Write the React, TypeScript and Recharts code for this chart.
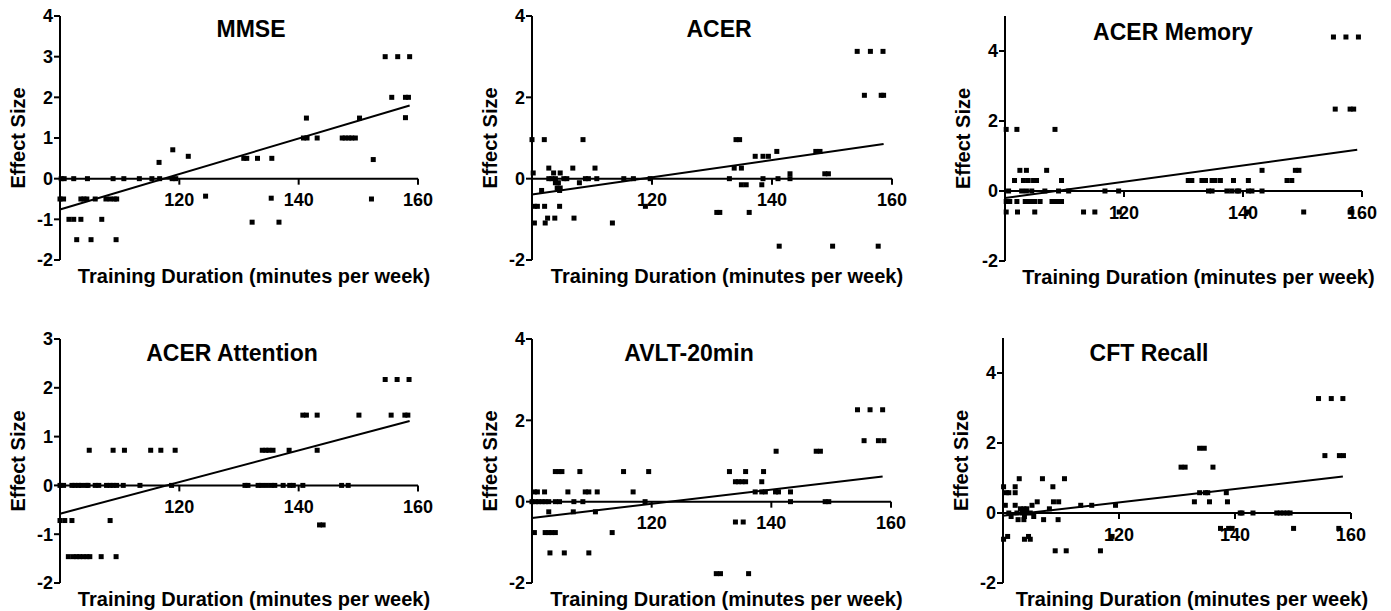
import React from 'react';
import { ScatterChart, Scatter, XAxis, YAxis, ReferenceLine } from 'recharts';

const FONT = '"Liberation Sans", Arial, Helvetica, sans-serif';

type Pt = [number, number];

const xDomain: [number, number] = [100, 160];
const xTicks = [120, 140, 160];
const xAxisTitle = 'Training Duration (minutes per week)';
const yAxisTitle = 'Effect Size';

const mmsePoints: Pt[] = [
  [100.2, 0], [100.7, 0], [102.3, 0], [104.6, 0], [108.9, 0], [110.7, 0], [113.3, 0], [115.4, 0], [116.7, 0], [118.8, 0], [119.4, 0],
  [100, -0.5], [100.6, -0.5], [103.5, -0.5], [104.0, -0.5], [104.5, -0.5], [105.9, -0.5], [107.7, -0.5], [108.4, -0.5], [109.1, -0.5], [109.5, -0.5],
  [101.5, -1], [102.3, -1], [103.5, -1], [107.0, -1],
  [102.8, -1.5], [105.2, -1.5], [109.4, -1.5],
  [116.6, 0.4], [118.9, 0.71], [121.5, 0.55], [124.4, -0.43],
  [130.8, 0.5], [131.3, 0.5], [133.1, 0.5], [135.5, 0.5],
  [132.2, -1.07], [136.7, -1.07], [135.4, -0.48],
  [141.3, 1.49],
  [140.8, 1], [141.4, 1], [143.1, 1], [147.3, 1], [147.8, 1], [148.4, 1], [148.9, 1], [149.5, 1],
  [150.2, 1.49], [152.5, 0.47], [152.2, -0.5],
  [154.5, 3], [156.6, 3], [158.6, 3],
  [155.6, 2], [157.9, 2], [158.4, 2], [157.9, 1.5],
];
const mmseFit: Pt[] = [[100, -0.76], [158.6, 1.8]];

const acerPoints: Pt[] = [
  [100, 0.96], [102.05, 0.96], [108.5, 0.96],
  [102.8, 0.26], [106.8, 0.26], [110.5, 0.26],
  [100.2, 0.14], [103.6, 0.14], [104.7, 0.14],
  [102.8, 0], [103.3, 0], [103.9, 0], [105.3, 0], [105.8, 0], [108.9, 0], [109.4, 0], [110.8, 0],
  [103.9, -0.1], [104.4, -0.1], [107.9, -0.1],
  [104.2, -0.23], [104.7, -0.23],
  [101.6, -0.29], [104.6, -0.29],
  [100.4, -0.68], [100.9, -0.68], [102.1, -0.68], [104.6, -0.68],
  [102.6, -0.97], [103.8, -0.97], [107.0, -0.97],
  [100.4, -1.09], [102.2, -1.09], [113.4, -1.09],
  [115.3, 0], [116.9, 0], [119.7, 0], [118.9, -0.68],
  [134.0, 0.96], [134.6, 0.96],
  [133.7, 0.26], [134.9, 0.26],
  [132.9, 0], [138.5, 0], [141.0, 0], [143.0, 0],
  [143.0, 0.12], [148.8, 0.12], [149.4, 0.12],
  [134.9, -0.15], [135.7, -0.15], [138.3, -0.15],
  [137.2, 0.55], [138.5, 0.55], [139.4, 0.55],
  [140.8, 0.67], [147.3, 0.67], [148.0, 0.67],
  [130.8, -0.83], [131.3, -0.83], [136.2, -0.83],
  [141.2, -1.66], [150.1, -1.66], [157.7, -1.66],
  [154.2, 3.13], [156.4, 3.13], [158.5, 3.13],
  [155.4, 2.05], [158.2, 2.05], [158.6, 2.05],
];
const acerFit: Pt[] = [[100, -0.39], [158.6, 0.85]];

const memoryPoints: Pt[] = [
  [155.2, 4.4], [157.3, 4.4], [159.4, 4.4],
  [155.5, 2.34], [158.0, 2.34], [158.6, 2.34],
  [100.2, 1.76], [102.0, 1.76], [108.4, 1.76],
  [102.5, 0.59], [103.6, 0.59], [107.0, 0.59], [143.2, 0.59], [148.8, 0.59], [149.4, 0.59],
  [101.6, 0.3], [103.1, 0.3], [103.9, 0.3], [104.8, 0.3], [105.3, 0.3], [109.5, 0.3], [130.8, 0.3], [131.4, 0.3], [133.1, 0.3],
  [133.7, 0.3], [134.8, 0.3], [135.3, 0.3], [136.2, 0.3], [138.4, 0.3], [140.9, 0.3], [147.4, 0.3], [148.2, 0.3],
  [100.6, 0], [102.8, 0], [103.6, 0], [104.5, 0], [106.7, 0], [109.0, 0], [110.7, 0], [116.8, 0], [119.1, 0],
  [134.2, 0], [134.8, 0], [137.3, 0], [138.1, 0], [139.0, 0], [139.3, 0], [140.9, 0], [141.5, 0], [143.2, 0],
  [100.2, -0.3], [100.6, -0.3], [100.8, -0.3], [102.0, -0.3], [103.4, -0.3], [103.9, -0.3], [104.5, -0.3],
  [105.0, -0.3], [105.9, -0.3], [107.9, -0.3], [108.4, -0.3], [109.0, -0.3], [109.5, -0.3],
  [100.2, -0.6], [102.1, -0.6], [105.0, -0.6], [113.2, -0.6], [115.1, -0.6], [119.2, -0.6], [140.9, -0.6],
  [150.2, -0.6], [158.0, -0.6], [158.3, -0.6],
];
const memoryFit: Pt[] = [[100, -0.2], [159.2, 1.18]];

const attentionPoints: Pt[] = [
  [154.5, 2.17], [156.5, 2.17], [158.5, 2.17],
  [140.7, 1.44], [141.3, 1.44], [143.1, 1.44], [150.1, 1.44], [155.5, 1.44], [157.8, 1.44], [158.3, 1.44],
  [104.9, 0.72], [108.9, 0.72], [110.8, 0.72], [115.2, 0.72], [116.9, 0.72], [119.3, 0.72],
  [133.9, 0.72], [134.5, 0.72], [135.0, 0.72], [135.7, 0.72], [138.4, 0.72], [143.1, 0.72],
  [100, 0], [100.6, 0], [102.0, 0], [102.5, 0], [103.1, 0], [103.6, 0], [104.4, 0], [104.7, 0], [105.9, 0], [106.5, 0],
  [107.8, 0], [108.4, 0], [108.9, 0], [109.5, 0], [110.6, 0], [113.4, 0], [118.7, 0], [131.0, 0], [131.5, 0], [133.2, 0],
  [133.8, 0], [134.6, 0], [135.4, 0], [136.0, 0], [137.4, 0], [138.5, 0], [139.1, 0], [140.7, 0], [147.2, 0], [148.3, 0],
  [100, -0.72], [100.8, -0.72], [102.0, -0.72], [108.4, -0.72],
  [143.5, -0.81], [144.1, -0.81],
  [101.4, -1.46], [102.2, -1.46], [102.8, -1.46], [103.3, -1.46], [103.9, -1.46], [104.5, -1.46], [105.0, -1.46],
  [106.9, -1.46], [109.4, -1.46],
];
const attentionFit: Pt[] = [[100, -0.58], [158.6, 1.32]];

const avltPoints: Pt[] = [
  [154.4, 2.26], [156.5, 2.26], [158.6, 2.26],
  [155.5, 1.5], [157.9, 1.5], [158.8, 1.5],
  [140.8, 1.24], [147.5, 1.24], [148.2, 1.24],
  [103.9, 0.74], [104.5, 0.74], [105.0, 0.74], [108.0, 0.74], [115.3, 0.74], [119.5, 0.74], [133.0, 0.74], [135.7, 0.74], [138.7, 0.74],
  [134.0, 0.49], [134.5, 0.49], [135.1, 0.49], [135.7, 0.49], [138.4, 0.49],
  [100.4, 0.24], [100.9, 0.24], [102.1, 0.24], [106.0, 0.24], [108.9, 0.24], [109.5, 0.24], [110.9, 0.24], [116.9, 0.24],
  [137.3, 0.24], [138.4, 0.24], [139.0, 0.24], [140.7, 0.24], [141.2, 0.24], [143.2, 0.24],
  [100, 0], [100.6, 0], [101.1, 0], [101.7, 0], [102.2, 0], [102.8, 0], [103.9, 0], [104.6, 0], [107.0, 0], [108.5, 0],
  [118.9, 0], [143.2, 0], [149.0, 0], [149.6, 0],
  [102.8, -0.25], [106.9, -0.25], [110.6, -0.25],
  [134.0, -0.5], [135.3, -0.5],
  [100.4, -0.76], [102.2, -0.76], [102.8, -0.76], [103.3, -0.76], [103.9, -0.76], [113.4, -0.76],
  [103.0, -1.26], [105.4, -1.26], [109.5, -1.26],
  [130.8, -1.77], [131.5, -1.77], [136.2, -1.77],
];
const avltFit: Pt[] = [[100, -0.4], [158.6, 0.62]];

const cftPoints: Pt[] = [
  [154.4, 3.27], [156.6, 3.27], [158.6, 3.27],
  [155.5, 1.64], [158.0, 1.64], [158.7, 1.64],
  [133.9, 1.85], [134.7, 1.85],
  [130.7, 1.31], [131.4, 1.31], [136.2, 1.31],
  [102.8, 0.98], [106.8, 0.98], [110.6, 0.98],
  [100.1, 0.75], [102.1, 0.75], [108.6, 0.75],
  [100.6, 0.58], [101.0, 0.58], [102.1, 0.58], [133.9, 0.58], [134.9, 0.58], [135.3, 0.58], [138.5, 0.58],
  [105.9, 0.32], [108.7, 0.32], [109.6, 0.32], [133.0, 0.32], [135.6, 0.32], [138.7, 0.32],
  [100.4, 0.22], [102.1, 0.22], [105.0, 0.22], [113.4, 0.22], [115.3, 0.22], [119.4, 0.22],
  [103.0, 0.12], [103.6, 0.12], [104.1, 0.12], [108.0, 0.12],
  [101.0, 0], [102.4, 0], [103.3, 0], [103.9, 0], [104.7, 0], [140.9, 0], [141.2, 0], [143.1, 0],
  [147.2, 0], [147.8, 0], [148.4, 0], [149.0, 0], [149.5, 0],
  [101.4, -0.1], [103.7, -0.1], [105.3, -0.1],
  [102.6, -0.19], [103.6, -0.19], [107.0, -0.19], [109.5, -0.19],
  [137.5, -0.44], [138.9, -0.44], [139.5, -0.44], [150.1, -0.44], [157.9, -0.44],
  [100.8, -0.67], [104.4, -0.67], [118.8, -0.67],
  [100.1, -0.75], [103.7, -0.75], [104.7, -0.75],
  [109.0, -1.08], [110.9, -1.08], [116.8, -1.08],
];
const cftFit: Pt[] = [[100, -0.08], [158.6, 1.04]];

const yTicksSix = [-2, -1, 0, 1, 2, 3, 4];
const yTicksEven = [-2, 0, 2, 4];
const yTicksFive = [-2, -1, 0, 1, 2, 3];

interface PanelCfg {
  title: string;
  points: Pt[];
  fit: Pt[];
  yDomain: [number, number];
  yTicks: number[];
  plotLeft: number;
  plotTop: number;
  plotW: number;
  plotH: number;
  titleX: number;
  titleY: number;
}

const panels: PanelCfg[] = [
  { title: 'MMSE', points: mmsePoints, fit: mmseFit, yDomain: [-2, 4], yTicks: yTicksSix, plotLeft: 60, plotTop: 16, plotW: 358, plotH: 244, titleX: 251, titleY: 29 },
  { title: 'ACER', points: acerPoints, fit: acerFit, yDomain: [-2, 4], yTicks: yTicksEven, plotLeft: 532, plotTop: 16, plotW: 360, plotH: 244, titleX: 719, titleY: 29 },
  { title: 'ACER Memory', points: memoryPoints, fit: memoryFit, yDomain: [-2, 5], yTicks: yTicksEven, plotLeft: 1005, plotTop: 16, plotW: 357, plotH: 245, titleX: 1173, titleY: 32 },
  { title: 'ACER Attention', points: attentionPoints, fit: attentionFit, yDomain: [-2, 3], yTicks: yTicksFive, plotLeft: 60, plotTop: 339, plotW: 358, plotH: 244, titleX: 232, titleY: 353 },
  { title: 'AVLT-20min', points: avltPoints, fit: avltFit, yDomain: [-2, 4], yTicks: yTicksEven, plotLeft: 532, plotTop: 339, plotW: 359, plotH: 244, titleX: 689, titleY: 353 },
  { title: 'CFT Recall', points: cftPoints, fit: cftFit, yDomain: [-2, 5], yTicks: yTicksEven, plotLeft: 1003, plotTop: 338, plotW: 348, plotH: 245, titleX: 1149, titleY: 353 },
];

const toObj = (pts: Pt[]) => pts.map(([x, y]) => ({ x, y }));

const Square = (props: any) => {
  const { cx, cy } = props;
  if (cx == null || cy == null) return <g />;
  return <rect x={cx - 2.5} y={cy - 2.5} width={5} height={5} fill="#000" />;
};
const NoShape = () => <g />;

const Y_W = 60;
const TOP = 16;
const RIGHT = 30;
const X_H = 40;
const TICK_FS = 18;
const LABEL_FS = 20;

function Panel({ cfg }: { cfg: PanelCfg }) {
  const width = Y_W + cfg.plotW + RIGHT;
  const height = TOP + cfg.plotH + X_H;
  const [y0, y1] = cfg.yDomain;
  const zeroOffset = (cfg.plotH * (0 - y0)) / (y1 - y0);

  const renderXTick = (p: any) => {
    const zy = p.y - zeroOffset;
    return (
      <g>
        <line x1={p.x} x2={p.x} y1={zy} y2={zy + 6} stroke="#000" strokeWidth={2} />
        <text x={p.x} y={zy + 27.5} textAnchor="middle" fontFamily={FONT} fontWeight="bold" fontSize={TICK_FS} fill="#000">
          {p.payload.value}
        </text>
      </g>
    );
  };

  const renderXLabel = (p: any) => {
    const vb = p.viewBox || {};
    return (
      <text x={vb.x + vb.width / 2 + 15} y={vb.y + 23} textAnchor="middle" fontFamily={FONT} fontWeight="bold" fontSize={LABEL_FS} fill="#000">
        {xAxisTitle}
      </text>
    );
  };

  const renderYLabel = (p: any) => {
    const vb = p.viewBox || {};
    const cx = vb.x + vb.width - 35;
    const cy = vb.y + vb.height / 2;
    return (
      <text x={cx} y={cy} transform={`rotate(-90, ${cx}, ${cy})`} textAnchor="middle" fontFamily={FONT} fontWeight="bold" fontSize={LABEL_FS} fill="#000">
        {yAxisTitle}
      </text>
    );
  };

  return (
    <div style={{ position: 'absolute', left: cfg.plotLeft - Y_W, top: cfg.plotTop - TOP }}>
      <ScatterChart width={width} height={height} margin={{ top: TOP, right: RIGHT, bottom: 0, left: 0 }}>
        <XAxis
          type="number"
          dataKey="x"
          domain={xDomain}
          ticks={xTicks}
          axisLine={false}
          tickLine={false}
          tickSize={0}
          tickMargin={0}
          height={X_H}
          tick={renderXTick}
          label={renderXLabel}
          interval={0}
        />
        <YAxis
          type="number"
          dataKey="y"
          domain={cfg.yDomain}
          ticks={cfg.yTicks}
          width={Y_W}
          interval={0}
          axisLine={{ stroke: '#000', strokeWidth: 2 }}
          tickLine={{ stroke: '#000', strokeWidth: 2 }}
          tickSize={6}
          tickMargin={1}
          tick={{ fill: '#000', fontSize: TICK_FS, fontWeight: 'bold', fontFamily: FONT }}
          label={renderYLabel}
        />
        <ReferenceLine y={0} stroke="#000" strokeWidth={2} />
        <Scatter data={toObj(cfg.points)} shape={Square} isAnimationActive={false} />
        <Scatter
          data={toObj(cfg.fit)}
          shape={NoShape}
          line={{ stroke: '#000', strokeWidth: 2 }}
          lineType="joint"
          isAnimationActive={false}
        />
      </ScatterChart>
    </div>
  );
}

export default function App() {
  return (
    <div style={{ position: 'absolute', left: 0, top: 0, width: 1391, height: 611, background: '#fff', overflow: 'hidden', fontFamily: FONT }}>
      {panels.map((cfg) => (
        <Panel key={cfg.title} cfg={cfg} />
      ))}
      {panels.map((cfg) => (
        <div
          key={cfg.title + '-t'}
          style={{
            position: 'absolute',
            left: cfg.titleX,
            top: cfg.titleY,
            transform: 'translate(-50%, -50%)',
            fontSize: 23,
            fontWeight: 'bold',
            lineHeight: 1,
            whiteSpace: 'nowrap',
            color: '#000',
          }}
        >
          {cfg.title}
        </div>
      ))}
    </div>
  );
}
